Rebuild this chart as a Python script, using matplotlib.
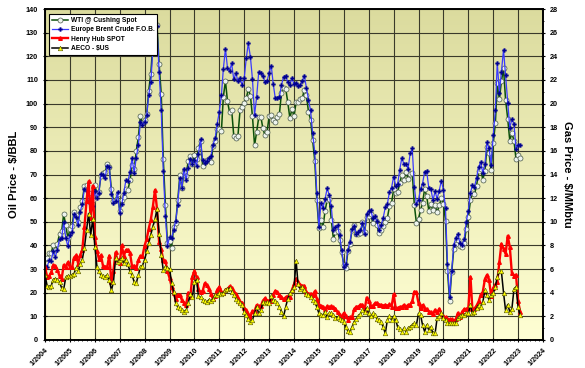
import matplotlib
matplotlib.use('Agg')
import matplotlib.pyplot as plt
import matplotlib.dates as mdates
from matplotlib.ticker import MultipleLocator
import numpy as np
import pandas as pd

# monthly spot prices, Jan 2004 - Feb 2023
months = pd.date_range('2004-01-01', '2023-02-01', freq='MS')

wti = [
    34.31, 34.69, 36.74, 36.75, 40.28, 38.03, 40.78, 44.90, 45.94, 53.28, 48.47, 43.15,
    46.84, 48.15, 54.19, 52.98, 49.83, 56.35, 59.00, 64.99, 65.59, 62.26, 58.32, 59.41,
    65.49, 61.63, 62.69, 69.44, 70.84, 70.95, 74.41, 73.04, 63.80, 58.89, 59.08, 61.96,
    54.51, 59.28, 60.44, 63.98, 63.46, 67.49, 74.12, 72.36, 79.92, 85.80, 94.77, 91.69,
    92.97, 95.39, 105.45, 112.58, 125.40, 133.88, 133.37, 116.67, 104.11, 76.61, 57.31, 41.12,
    41.71, 39.09, 47.94, 49.65, 59.03, 69.64, 64.15, 71.05, 69.41, 75.72, 77.99, 74.47,
    78.33, 76.39, 81.20, 84.29, 73.74, 75.34, 76.32, 76.60, 75.24, 81.89, 84.25, 89.15,
    89.17, 88.58, 102.86, 109.53, 100.90, 96.26, 97.30, 86.33, 85.52, 86.32, 97.16, 98.56,
    100.27, 102.20, 106.16, 103.32, 94.66, 82.30, 87.90, 94.13, 94.51, 89.49, 86.53, 87.86,
    94.76, 95.31, 92.94, 92.02, 94.51, 95.77, 104.67, 106.57, 106.29, 100.54, 93.86, 97.63,
    94.62, 100.82, 100.80, 102.07, 102.18, 105.79, 103.59, 96.54, 93.21, 84.40, 75.79, 59.29,
    47.22, 50.58, 47.82, 54.45, 59.27, 59.82, 50.90, 42.87, 45.48, 46.22, 42.44, 37.19,
    31.68, 30.32, 37.55, 40.75, 46.71, 48.76, 44.65, 44.72, 45.18, 49.78, 45.66, 51.97,
    52.50, 53.47, 49.33, 51.06, 48.48, 45.18, 46.63, 48.04, 49.82, 51.58, 56.64, 57.88,
    63.70, 62.23, 62.73, 66.25, 69.98, 67.87, 70.98, 68.06, 70.23, 70.75, 56.96, 49.52,
    51.38, 54.95, 58.15, 63.86, 60.83, 54.66, 57.35, 54.81, 56.95, 53.96, 57.03, 59.88,
    57.52, 50.54, 29.21, 16.55, 28.56, 38.31, 40.71, 42.34, 39.63, 39.40, 40.94, 47.02,
    52.00, 59.04, 62.33, 61.72, 65.17, 71.38, 72.49, 67.73, 71.65, 81.48, 79.15, 71.71,
    83.22, 91.64, 108.50, 101.78, 109.55, 114.84, 101.62, 93.67, 84.26, 87.55, 84.37, 76.44,
    78.12, 76.83,
]

brent = [
    31.28, 30.86, 33.63, 33.59, 37.57, 35.18, 38.22, 42.74, 43.20, 49.78, 43.11, 39.60,
    44.51, 45.48, 53.10, 51.88, 48.65, 54.35, 57.52, 63.98, 62.91, 58.54, 55.24, 56.86,
    62.99, 60.21, 62.06, 70.26, 69.78, 68.56, 73.67, 73.23, 61.96, 57.81, 58.76, 62.47,
    53.68, 57.56, 62.05, 67.49, 67.21, 71.05, 76.93, 70.76, 77.17, 82.34, 92.41, 90.93,
    92.18, 94.99, 103.64, 109.07, 122.80, 132.32, 132.72, 113.24, 97.23, 71.58, 52.45, 39.95,
    43.44, 43.32, 46.54, 50.18, 57.30, 68.61, 64.44, 72.51, 67.65, 72.77, 76.66, 74.46,
    76.17, 73.75, 78.83, 84.82, 75.95, 74.76, 75.58, 77.04, 77.84, 82.67, 85.28, 91.45,
    96.52, 103.72, 114.64, 123.26, 114.99, 113.83, 116.97, 110.22, 112.83, 109.55, 110.77, 107.87,
    110.69, 119.33, 125.45, 119.75, 110.34, 95.16, 102.62, 113.36, 112.86, 111.71, 109.06, 109.49,
    112.96, 116.05, 108.47, 102.25, 102.56, 102.92, 107.93, 111.28, 111.60, 109.08, 107.79, 110.76,
    108.12, 108.90, 107.48, 107.76, 109.54, 111.80, 106.77, 101.61, 97.09, 87.43, 79.44, 62.34,
    47.76, 58.10, 55.89, 59.52, 64.08, 61.48, 56.56, 46.52, 47.62, 48.43, 44.27, 38.01,
    30.70, 32.18, 38.21, 41.58, 46.74, 48.25, 44.95, 45.84, 46.57, 49.52, 44.73, 53.31,
    54.58, 54.87, 51.59, 52.31, 50.33, 46.37, 48.48, 51.70, 56.15, 57.51, 62.71, 64.37,
    69.08, 65.32, 66.02, 72.11, 76.98, 74.41, 74.25, 72.53, 78.89, 81.03, 64.75, 57.36,
    59.41, 63.96, 66.14, 71.23, 71.32, 64.22, 63.92, 59.04, 62.83, 59.71, 63.21, 67.31,
    63.65, 55.66, 32.01, 18.38, 29.38, 40.27, 43.24, 44.74, 40.91, 40.19, 42.69, 49.99,
    54.77, 62.28, 65.41, 64.81, 68.53, 73.16, 75.17, 70.75, 74.49, 83.54, 81.05, 74.17,
    86.51, 97.13, 117.25, 104.58, 113.34, 122.71, 111.93, 100.45, 89.76, 93.33, 91.42, 80.92,
    82.50, 82.59,
]

henry_hub = [
    6.14, 5.37, 5.39, 5.71, 6.33, 6.27, 5.93, 5.41, 5.15, 6.35, 6.17, 6.58,
    6.15, 6.14, 6.96, 7.16, 6.47, 7.18, 7.63, 9.53, 11.75, 13.42, 10.30, 13.05,
    8.69, 7.54, 6.89, 7.16, 6.25, 6.21, 6.17, 7.14, 4.90, 5.85, 7.41, 6.73,
    6.55, 8.00, 7.11, 7.60, 7.64, 7.35, 6.22, 6.29, 6.08, 6.74, 7.10, 7.11,
    7.99, 8.54, 9.41, 10.18, 11.27, 12.69, 11.09, 8.26, 7.67, 6.74, 6.68, 5.82,
    5.24, 4.52, 3.96, 3.50, 3.83, 3.80, 3.38, 3.14, 2.99, 4.01, 3.66, 5.35,
    5.83, 5.32, 4.29, 4.03, 4.14, 4.80, 4.63, 4.32, 3.89, 3.43, 3.71, 4.25,
    4.49, 4.09, 3.97, 4.24, 4.31, 4.54, 4.42, 4.06, 3.90, 3.57, 3.24, 3.17,
    2.67, 2.50, 2.17, 1.95, 2.43, 2.46, 2.95, 2.84, 2.85, 3.32, 3.54, 3.34,
    3.33, 3.33, 3.81, 4.17, 4.04, 3.83, 3.62, 3.43, 3.62, 3.68, 3.64, 4.24,
    4.71, 5.20, 4.90, 4.66, 4.58, 4.59, 4.05, 3.91, 3.92, 3.78, 4.12, 3.48,
    2.99, 2.87, 2.83, 2.61, 2.85, 2.78, 2.84, 2.77, 2.66, 2.34, 2.09, 1.93,
    2.28, 1.99, 1.73, 1.92, 1.92, 2.59, 2.82, 2.82, 2.99, 2.98, 2.55, 3.59,
    3.30, 2.85, 2.88, 3.10, 3.15, 2.98, 2.98, 2.90, 2.98, 2.88, 3.01, 2.82,
    3.87, 2.67, 2.69, 2.80, 2.80, 2.97, 2.83, 2.96, 3.00, 3.28, 4.09, 4.04,
    3.11, 2.69, 2.95, 2.65, 2.64, 2.40, 2.37, 2.22, 2.56, 2.33, 2.65, 2.22,
    2.02, 1.91, 1.79, 1.74, 1.75, 1.63, 1.77, 2.30, 1.92, 2.39, 2.61, 2.59,
    2.71, 5.35, 2.62, 2.66, 2.91, 3.26, 3.84, 4.07, 5.16, 5.51, 5.05, 3.76,
    4.38, 4.69, 4.90, 6.60, 8.14, 7.70, 7.28, 8.81, 7.88, 5.66, 5.45, 5.53,
    3.27, 2.38,
]

aeco = [
    5.50, 4.60, 4.50, 4.60, 5.10, 5.20, 5.10, 4.90, 4.40, 4.30, 5.30, 5.40,
    5.40, 5.50, 5.60, 6.10, 5.80, 6.40, 6.80, 7.80, 9.30, 10.70, 8.90, 10.20,
    7.90, 6.20, 5.80, 5.50, 5.40, 5.30, 5.50, 5.10, 4.20, 4.90, 6.90, 6.60,
    6.80, 6.90, 6.50, 6.80, 6.40, 5.80, 5.50, 4.90, 4.80, 5.50, 6.20, 6.30,
    6.80, 7.50, 8.20, 8.90, 9.60, 10.20, 11.10, 9.00, 7.20, 5.90, 6.20, 6.10,
    6.00, 4.80, 4.10, 3.10, 2.80, 2.70, 2.50, 2.40, 2.50, 3.10, 3.90, 3.60,
    4.90, 5.10, 3.70, 3.60, 3.40, 3.30, 3.20, 3.40, 3.30, 3.50, 3.80, 3.80,
    3.95, 3.90, 4.00, 4.20, 4.30, 4.40, 4.10, 3.80, 3.50, 3.30, 3.10, 3.00,
    2.40, 2.10, 1.75, 1.55, 1.70, 2.25, 2.80, 2.25, 2.50, 3.20, 3.10, 3.20,
    3.10, 3.70, 3.40, 3.30, 3.10, 2.80, 2.40, 2.00, 2.80, 3.50, 3.95, 4.20,
    4.50, 6.70, 4.70, 4.30, 4.50, 4.20, 3.90, 3.80, 3.60, 3.40, 3.20, 2.80,
    2.25, 2.10, 2.10, 2.40, 1.95, 2.25, 2.25, 2.10, 1.90, 1.95, 1.80, 1.70,
    1.50, 1.10, 0.75, 0.70, 1.10, 1.55, 1.80, 2.00, 2.20, 2.50, 2.40, 2.70,
    2.25, 2.00, 2.25, 2.10, 1.80, 1.70, 1.55, 1.10, 0.55, 1.70, 2.00, 1.70,
    2.00, 1.70, 1.10, 0.95, 0.70, 1.00, 0.70, 1.00, 1.10, 1.27, 1.40, 1.27,
    2.25, 2.10, 1.27, 0.70, 1.27, 0.85, 1.10, 0.55, 0.55, 1.85, 2.00, 2.25,
    1.85, 1.70, 1.47, 1.40, 1.40, 1.40, 1.45, 1.85, 2.00, 2.10, 2.10, 2.25,
    2.25, 2.96, 2.25, 2.40, 2.70, 2.96, 2.80, 3.20, 4.20, 3.80, 3.40, 3.80,
    3.95, 4.50, 5.35, 5.80, 5.80, 4.00, 2.50, 3.00, 2.40, 2.60, 4.30, 4.50,
    2.80, 2.10,
]

plt.rcParams['font.family'] = ['Liberation Sans', 'DejaVu Sans']

fig = plt.figure(figsize=(5.85, 3.68), dpi=100)
pos = [45 / 585, 28 / 368, 498 / 585, 331 / 368]

# gradient plot-area background
bg = fig.add_axes(pos, zorder=0)
top = np.array([0.86, 0.86, 0.62])
bottom = np.array([1.0, 1.0, 0.83])
t = np.linspace(0, 1, 256)[:, None, None]
bg.imshow(top + (bottom - top) * t, aspect='auto', extent=[0, 1, 0, 1])
bg.axis('off')

ax = fig.add_axes(pos, zorder=1)
ax.patch.set_visible(False)
ax2 = ax.twinx()
ax2.set_zorder(2)
ax2.patch.set_visible(False)

ax.plot(months, wti, color='#0A500A', lw=1.1, marker='o', ms=3.6,
        mfc='#EEF4EE', mec='#4A5A4A', mew=0.5, label='WTI @ Cushing Spot')
ax.plot(months, brent, color='#3A3AFF', lw=0.9, marker='P', ms=3.0,
        mfc='#000090', mec='#000090', mew=0.2, label='Europe Brent Crude F.O.B.')
ax2.plot(months, henry_hub, color='#FF0000', lw=1.7, marker='^', ms=2.6,
         mfc='#FF0000', mec='#FF0000', label='Henry Hub SPOT')
ax2.plot(months, aeco, color='black', lw=1.1, marker='^', ms=3.3,
         mfc='#FFFF00', mec='#505000', mew=0.4, label='AECO - $US')

ax.set_xlim(pd.Timestamp('2004-01-01'), pd.Timestamp('2024-01-01'))
ax.set_ylim(0, 140)
ax2.set_ylim(0, 28)
ax.yaxis.set_major_locator(MultipleLocator(10))
ax2.yaxis.set_major_locator(MultipleLocator(2))
ax2.yaxis.set_minor_locator(MultipleLocator(1))
ax.xaxis.set_major_locator(mdates.YearLocator(1))
ax.xaxis.set_major_formatter(mdates.DateFormatter('1/%Y'))
ax.xaxis.set_minor_locator(mdates.MonthLocator(bymonth=[3, 5, 7, 9, 11]))

ax.grid(True, which='major', color='#3A3A2A', lw=0.8)
ax.set_axisbelow(True)

for a in (ax, ax2):
    for s in a.spines.values():
        s.set_color('black')
        s.set_linewidth(1.2)
ax.tick_params(axis='both', which='major', labelsize=5.2, direction='inout', length=3, width=0.8)
ax.tick_params(axis='x', which='minor', direction='inout', length=2, width=0.6)
ax2.tick_params(axis='y', which='major', labelsize=5.2, direction='inout', length=3, width=0.8)
ax2.tick_params(axis='y', which='minor', direction='inout', length=2, width=0.6)
for lab in ax.get_xticklabels() + ax.get_yticklabels() + ax2.get_yticklabels():
    lab.set_fontweight('bold')
for lab in ax.get_xticklabels():
    lab.set_rotation(45)
    lab.set_ha('right')
    lab.set_rotation_mode('anchor')

ax.set_ylabel('Oil Price - $/BBL', fontsize=8, fontweight='bold', labelpad=5)
ax2.set_ylabel('Gas Price - $/MMbtu', fontsize=8, fontweight='bold', rotation=270, labelpad=10)

h1, l1 = ax.get_legend_handles_labels()
h2, l2 = ax2.get_legend_handles_labels()
leg = ax2.legend(h1 + h2, l1 + l2, loc='upper left', bbox_to_anchor=(0.008, 0.985),
                 borderaxespad=0, fancybox=False, framealpha=1, edgecolor='black',
                 prop={'size': 4.8, 'weight': 'bold'}, handlelength=2.4,
                 labelspacing=0.35, borderpad=0.45, handletextpad=0.4)
leg.get_frame().set_linewidth(0.8)

fig.savefig('out.png', dpi=100)
